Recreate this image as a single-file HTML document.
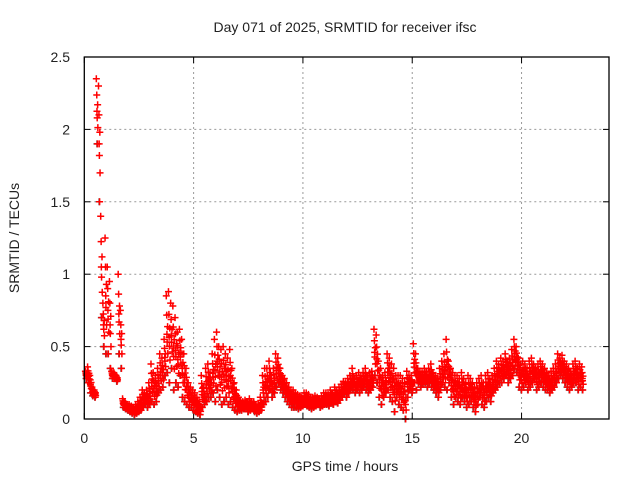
<!DOCTYPE html>
<html><head><meta charset="utf-8"><style>
body{margin:0;background:#fff}
svg text{font-family:"Liberation Sans",sans-serif;font-size:14px;fill:#222}
</style></head><body>
<svg id="c" width="640" height="480" xmlns="http://www.w3.org/2000/svg">
<text x="345" y="32" text-anchor="middle">Day 071 of 2025, SRMTID for receiver ifsc</text>
<text transform="translate(19,238) rotate(-90)" text-anchor="middle">SRMTID / TECUs</text>
<text x="345" y="471" text-anchor="middle">GPS time / hours</text>
<g id="grid"></g><g id="marks"></g>
<rect x="84.3" y="57" width="524.7" height="362" fill="none" stroke="#000" stroke-width="1.3"/>
</svg>
<script>
const xTicks=[0,5,10,15,20];
const yTicks=[0,0.5,1,1.5,2,2.5];
const yTickLabels=["0","0.5","1","1.5","2","2.5"];
const step=0.1;
const hiVals=[.33,.36,.30,.22,.20,2.35,2.30,1.40,.80,1.25,
1.05,.95,.33,.32,.30,1.00,.75,.14,.12,.10,
.10,.09,.08,.10,.12,.15,.20,.18,.20,.25,
.38,.32,.30,.35,.45,.42,.55,.85,.88,.80,
.78,.70,.60,.62,.55,.45,.35,.25,.22,.20,
.18,.15,.12,.30,.22,.35,.38,.32,.45,.55,
.60,.50,.48,.50,.45,.42,.48,.35,.25,.20,
.15,.12,.12,.13,.12,.14,.12,.12,.10,.10,
.15,.30,.35,.35,.40,.30,.35,.45,.42,.35,
.30,.28,.25,.22,.20,.20,.18,.17,.16,.15,
.18,.18,.17,.15,.15,.16,.15,.14,.16,.18,
.18,.17,.20,.18,.22,.20,.22,.24,.26,.25,
.28,.30,.35,.28,.30,.32,.30,.32,.35,.30,
.32,.33,.62,.58,.40,.35,.30,.32,.45,.42,
.38,.35,.30,.30,.30,.28,.25,.33,.30,.30,
.52,.45,.35,.33,.32,.35,.33,.35,.38,.32,
.30,.28,.35,.40,.45,.55,.40,.35,.32,.30,
.30,.28,.32,.28,.25,.30,.28,.25,.22,.25,
.28,.30,.25,.30,.32,.28,.30,.35,.40,.38,
.42,.40,.45,.40,.42,.48,.55,.50,.42,.38,
.40,.38,.35,.40,.42,.38,.35,.38,.40,.38,
.35,.32,.30,.33,.35,.38,.45,.42,.44,.40,
.38,.35,.33,.38,.40,.35,.38,.36];
const loVals=[.28,.25,.18,.16,.15,1.9,1.5,.70,.50,.45,
.45,.35,.28,.28,.26,.45,.35,.08,.07,.06,
.05,.04,.03,.04,.05,.06,.08,.10,.08,.10,
.12,.10,.12,.18,.20,.22,.30,.32,.25,.35,
.20,.25,.22,.30,.15,.12,.10,.08,.08,.06,
.05,.04,.03,.08,.10,.12,.15,.15,.18,.12,
.20,.15,.10,.12,.15,.10,.12,.08,.06,.05,
.06,.06,.07,.08,.05,.06,.07,.05,.04,.05,
.06,.10,.12,.15,.20,.15,.18,.22,.25,.20,
.18,.15,.12,.10,.08,.08,.08,.07,.08,.09,
.10,.09,.08,.07,.08,.09,.10,.08,.09,.10,
.10,.09,.12,.10,.12,.11,.13,.15,.17,.15,
.18,.20,.20,.18,.20,.18,.20,.22,.20,.18,
.20,.22,.30,.25,.15,.10,.15,.18,.20,.15,
.12,.05,.15,.10,.08,.06,.00,.15,.20,.18,
.25,.20,.25,.22,.24,.25,.22,.25,.22,.20,
.18,.15,.20,.25,.22,.20,.25,.15,.10,.15,
.12,.10,.15,.12,.08,.10,.12,.08,.05,.10,
.15,.10,.08,.12,.15,.12,.18,.20,.22,.25,
.25,.28,.30,.25,.28,.30,.35,.32,.22,.20,
.22,.25,.20,.22,.25,.28,.20,.22,.25,.22,
.20,.20,.18,.20,.22,.25,.28,.30,.28,.25,
.22,.20,.22,.25,.25,.20,.22,.20];
const NS="http://www.w3.org/2000/svg";
const X0=84.3,X1=609,Y0=419,Y1=57,XMAX=24,YMAX=2.5;
const xs=v=>X0+v/XMAX*(X1-X0);
const ys=v=>Y0-v/YMAX*(Y0-Y1);
const grid=document.getElementById('grid'),marks=document.getElementById('marks'),svg=document.getElementById('c');
function mk(t,a,p){const e=document.createElementNS(NS,t);for(const k in a)e.setAttribute(k,a[k]);p.appendChild(e);return e;}
xTicks.forEach(v=>{const x=xs(v);
 if(v>0){const g=mk('line',{x1:x,x2:x,y1:Y0,y2:Y1,stroke:'#999','stroke-dasharray':'2,3'},grid);
 
 }
 mk('line',{x1:x,x2:x,y1:Y0,y2:Y0-6,stroke:'#000'},grid);mk('line',{x1:x,x2:x,y1:Y1,y2:Y1+6,stroke:'#000'},grid);
 const t=mk('text',{x:x,y:443,'text-anchor':'middle'},svg);t.textContent=v;
 
 });
yTicks.forEach((v,i)=>{const y=ys(v);
 if(v>0&&v<YMAX){const g=mk('line',{x1:X0,x2:X1,y1:y,y2:y,stroke:'#999','stroke-dasharray':'2,3'},grid);
 
 }
 mk('line',{x1:X0,x2:X0+6,y1:y,y2:y,stroke:'#000'},grid);mk('line',{x1:X1,x2:X1-6,y1:y,y2:y,stroke:'#000'},grid);
 const t=mk('text',{x:70,y:y+5,'text-anchor':'end'},svg);t.textContent=yTickLabels[i];
 
 });
function plus(t,v,col){const x=xs(t),y=ys(v);
 const p=mk('path',{d:`M${x-3.5} ${y}H${x+3.5}M${x} ${y-3.5}V${y+3.5}`,stroke:col,'stroke-width':1.5,fill:'none'},marks);
 
 }
hiVals.forEach((h,i)=>{const t=i*step;plus(t+0.08,loVals[i],'#555');});
hiVals.forEach((h,i)=>{const t=i*step+0.05,l=loVals[i];
 plus(t,h,'#f00');plus(t+0.05,l,'#f00');plus(t+0.03,(h+l)/2,'#f00');plus(t+0.07,(h+3*l)/4,'#f00');plus(t+0.02,(3*h+l)/4,'#f00');
 plus(t+0.04,(2*h+3*l)/5,'#f00');plus(t+0.06,(3*h+2*l)/5,'#f00');});
</script>
</body></html>
